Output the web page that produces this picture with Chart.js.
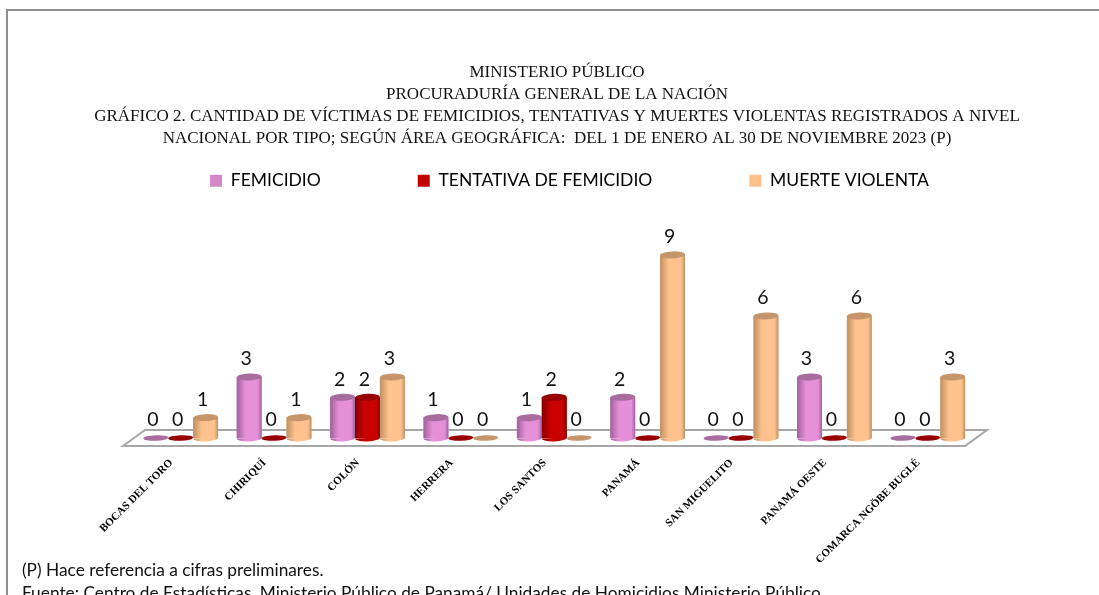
<!DOCTYPE html>
<html>
<head>
<meta charset="utf-8">
<style>
  html, body { margin: 0; padding: 0; width: 1099px; height: 595px; overflow: hidden; background: #fff; }
  #frame { position: absolute; left: 6px; top: 9px; width: 1093px; height: 586px; border-left: 2px solid #8f8f8f; border-top: 2px solid #8f8f8f; box-sizing: border-box; }
  #myChart { position: absolute; left: 0; top: 0; }
  #notes { position: absolute; left: 22px; top: 558px; font: 17.3px/23px Lato, sans-serif; color: #111; white-space: nowrap; }
</style>
<script src="https://cdn.jsdelivr.net/npm/chart.js@4"></script>
</head>
<body>
<div id="frame"></div>
<canvas id="myChart" width="1099" height="595"></canvas>
<div id="notes" >
  <div>(P) Hace referencia a cifras preliminares.</div>
  <div>Fuente: Centro de Estadísticas, Ministerio Público de Panamá/ Unidades de Homicidios Ministerio Público.</div>
</div>
<script>
const categories = ['BOCAS DEL TORO', 'CHIRIQUÍ', 'COLÓN', 'HERRERA', 'LOS SANTOS', 'PANAMÁ', 'SAN MIGUELITO', 'PANAMÁ OESTE', 'COMARCA NGÖBE BUGLÉ'];
const femicidio = [0, 3, 2, 1, 1, 2, 0, 3, 0];
const tentativa = [0, 0, 2, 0, 2, 0, 0, 0, 0];
const muerte = [1, 1, 3, 0, 0, 9, 6, 6, 3];

const titleLines = [
  'MINISTERIO PÚBLICO',
  'PROCURADURÍA GENERAL DE LA NACIÓN',
  'GRÁFICO 2. CANTIDAD DE VÍCTIMAS DE FEMICIDIOS, TENTATIVAS Y MUERTES VIOLENTAS REGISTRADOS A NIVEL',
  'NACIONAL POR TIPO; SEGÚN ÁREA GEOGRÁFICA:  DEL 1 DE ENERO AL 30 DE NOVIEMBRE 2023 (P)'
];

// legend colour, then shades of the cylinder: edge, centre, cap
const palette = [
  { legend: '#D587C8', edge: '#A0609A', mid: '#E48FD8', cap: '#A96C9F' },
  { legend: '#C00000', edge: '#860000', mid: '#C80000', cap: '#980000' },
  { legend: '#FFBF8B', edge: '#BE8F62', mid: '#FFC28E', cap: '#C6956B' }
];

// horizontal shading of one bar
function cylinderFill(ctx, bar, i) {
  const half = bar.width / 2;
  const g = ctx.createLinearGradient(bar.x - half, 0, bar.x + half, 0);
  g.addColorStop(0, palette[i].edge);
  g.addColorStop(0.35, palette[i].mid);
  g.addColorStop(0.85, palette[i].mid);
  g.addColorStop(1, palette[i].edge);
  return g;
}

function makeDataset(label, values, i) {
  return {
    label: label,
    data: values,
    backgroundColor: palette[i].mid,
    borderWidth: 0
  };
}

// Pin title and legend where they belong, the legend padding is only there for the wide gaps
const placeBlocks = {
  id: 'placeBlocks',
  beforeLayout(chart) {
    const legend = chart.legend;
    if (legend.fitOnce) return;
    const fit = legend.fit;
    legend.fitOnce = true;
    legend.fit = function () {
      this.maxWidth = 1099;
      fit.call(this);
      this.height = 105.5;
    };
  },
  afterLayout(chart) {
    chart.titleBlock.left = 0;
    chart.titleBlock.right = 1114;
    chart.legend.top = 75;
    chart.legend.left = 20;
    chart.legend.right = 1119;
  }
};

const floor = {
  id: 'floor',
  beforeDatasetsDraw(chart) {
    const { ctx, chartArea: a } = chart;
    ctx.save();
    ctx.beginPath();
    ctx.moveTo(a.left - 11, a.bottom + 8);
    ctx.lineTo(a.left + 11, a.bottom - 8);
    ctx.lineTo(a.right + 12.5, a.bottom - 8);
    ctx.lineTo(a.right - 9.5, a.bottom + 8);
    ctx.closePath();
    ctx.fillStyle = '#fff';
    ctx.fill();
    ctx.strokeStyle = '#a6a6a6';
    ctx.lineWidth = 2;
    ctx.stroke();
    ctx.restore();
  }
};

// Shading, rounded ends and value labels on top of the native bars
const cylinders = {
  id: 'cylinders',
  afterDatasetsDraw(chart) {
    const { ctx } = chart;
    const tilt = -0.04;
    ctx.save();
    chart.data.datasets.forEach((ds, i) => {
      chart.getDatasetMeta(i).data.forEach((bar, j) => {
        const rx = bar.width / 2;
        const flat = ds.data[j] === 0;
        if (!flat) {
          ctx.fillStyle = cylinderFill(ctx, bar, i);
          ctx.fillRect(bar.x - rx, bar.y, bar.width, bar.base - bar.y);
          ctx.beginPath();
          ctx.ellipse(bar.x, bar.base, rx, 3.5, tilt, 0, Math.PI);
          ctx.fill();
        }
        ctx.fillStyle = palette[i].cap;
        ctx.beginPath();
        ctx.ellipse(bar.x, bar.y, rx, flat ? 2.8 : 3.5, tilt, 0, Math.PI * 2);
        ctx.fill();
      });
    });
    ctx.fillStyle = '#111';
    ctx.font = '19.5px Lato, sans-serif';
    ctx.textAlign = 'center';
    ctx.textBaseline = 'middle';
    chart.data.datasets.forEach((ds, i) => {
      chart.getDatasetMeta(i).data.forEach((bar, j) => {
        ctx.fillText(String(ds.data[j]), bar.x - 3, bar.y - 18);
      });
    });
    ctx.restore();
  }
};

new Chart(document.getElementById('myChart'), {
  type: 'bar',
  data: {
    labels: categories,
    datasets: [
      makeDataset('FEMICIDIO', femicidio, 0),
      makeDataset('TENTATIVA DE FEMICIDIO', tentativa, 1),
      makeDataset('MUERTE VIOLENTA', muerte, 2)
    ]
  },
  plugins: [placeBlocks, floor, cylinders],
  options: {
    responsive: false,
    animation: false,
    layout: { padding: { left: 134, right: 124.5, top: 61, bottom: 0 } },
    datasets: { bar: { categoryPercentage: 0.8, barPercentage: 1 } },
    scales: {
      x: {
        afterFit(scale) { scale.height = 157; },
        grid: { display: false },
        border: { display: false },
        ticks: {
          autoSkip: false,
          minRotation: 45,
          maxRotation: 45,
          padding: 10.5,
          labelOffset: -9.5,
          color: '#000',
          font: { family: '"Liberation Serif", serif', size: 11, weight: 'bold' }
        }
      },
      y: { display: false, min: 0, max: 9 }
    },
    plugins: {
      tooltip: { enabled: false },
      title: {
        display: true,
        text: titleLines,
        color: '#111',
        padding: 0,
        font: { family: '"Liberation Serif", serif', size: 17, lineHeight: 1.3, weight: 'normal' }
      },
      legend: {
        position: 'top',
        labels: {
          boxWidth: 12,
          boxHeight: 12,
          padding: 97,
          color: '#111',
          font: { family: 'Lato, sans-serif', size: 17.5 },
          generateLabels: chart => chart.data.datasets.map((ds, i) => ({
            text: ds.label,
            fillStyle: palette[i].legend,
            strokeStyle: palette[i].legend,
            lineWidth: 0,
            datasetIndex: i
          }))
        }
      }
    }
  }
});
</script>
</body>
</html>
